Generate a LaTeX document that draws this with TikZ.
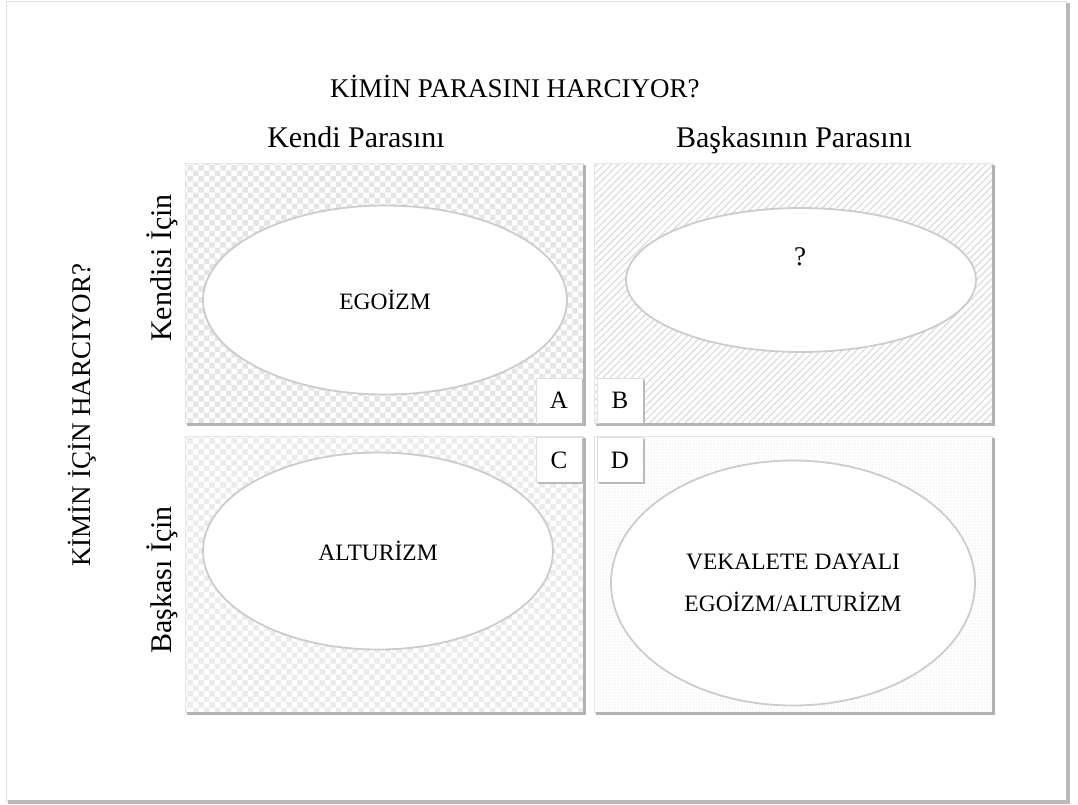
\documentclass[tikz,border=0pt]{standalone}
\usepackage{fontspec}
\setmainfont{Liberation Serif}
\usetikzlibrary{patterns,patterns.meta,shapes.geometric}

\tikzset{
  quad/.style={draw=gray!20, line width=1pt, anchor=north west, inner sep=0pt, minimum width=398pt},
  oval/.style={ellipse, draw=gray!40, line width=1.8pt, fill=white, inner sep=0pt, align=center, font=\fontsize{23.5}{42}\selectfont},
  letterbox/.style={draw=gray!25, line width=1pt, fill=white, inner sep=0pt, minimum width=46pt, minimum height=45pt, font=\fontsize{25}{25}\selectfont},
  shadowline/.style={draw=gray!60, line width=3pt},
  headtext/.style={font=\fontsize{30}{30}\selectfont},
  capstext/.style={font=\fontsize{27}{27}\selectfont},
}

\begin{document}
\begin{tikzpicture}[x=1pt,y=-1pt]

\useasboundingbox (0,0) rectangle (1078,804);

% outer frame
\draw [gray!25, line width=1pt] (6,1) rectangle (1066,801);
\draw [gray!55, line width=4pt] (1067.5,3) -- (1067.5,802) -- (8,802);

% titles
\node [capstext, anchor=base] (title) at (515,97) {KİMİN PARASINI HARCIYOR?};
\node [headtext, anchor=base] (own) at (356,147) {Kendi Parasını};
\node [headtext, anchor=base] (other) at (794,147) {Başkasının Parasını};
\node [capstext, rotate=90] (forwhom) at (82,415) {KİMİN İÇİN HARCIYOR?};
\node [headtext, rotate=90] (self) at (162,268) {Kendisi İçin};
\node [headtext, rotate=90] (others) at (162,580) {Başkası İçin};

% quadrants
\node [quad, minimum height=260pt, pattern=checkerboard, pattern color=gray!20] (qA) at (185,163) {};
\node [quad, minimum height=260pt, pattern={Lines[angle=45,distance=5pt,line width=1.2pt]}, pattern color=gray!28] (qB) at (594,163) {};
\node [quad, minimum height=276pt, pattern=checkerboard, pattern color=gray!16] (qC) at (185,436) {};
\node [quad, minimum height=276pt, pattern=dots, pattern color=gray!40] (qD) at (594,436) {};

\foreach \q in {qA,qB,qC,qD}
  \draw [shadowline] ([xshift=0.5pt,yshift=-2pt]\q.north east) -- ([xshift=0.5pt]\q.south east) -- ([xshift=2pt]\q.south west);

% ellipses
\node [oval, minimum width=364pt, minimum height=189pt] (egoism) at (385,300) {EGOİZM};
\node [oval, minimum width=350pt, minimum height=144pt] (unknown) at (801,280) {};
\node [capstext] (qmark) at (800,257) {?};
\node [oval, minimum width=350pt, minimum height=197pt] (altruism) at (378,551) {ALTURİZM};
\node [oval, minimum width=364pt, minimum height=245pt] (proxy) at (793,583) {VEKALETE DAYALI\\EGOİZM/ALTURİZM};

% letters
\node [letterbox] (lA) at (559,400.5) {A};
\node [letterbox] (lB) at (620,400.5) {B};
\node [letterbox] (lC) at (559,460) {C};
\node [letterbox] (lD) at (620,460) {D};

\foreach \l in {lA,lB,lC,lD}
  \draw [gray!55, line width=2pt] ([yshift=-2pt]\l.north east) -- (\l.south east) -- ([xshift=2pt]\l.south west);

\end{tikzpicture}
\end{document}
